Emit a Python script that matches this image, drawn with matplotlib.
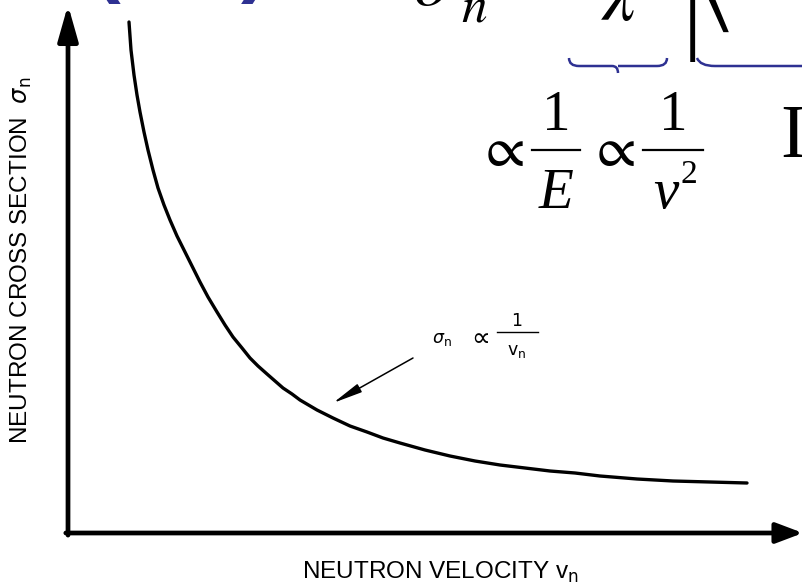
import matplotlib
matplotlib.use("Agg")
import matplotlib.pyplot as plt
from matplotlib.path import Path
from matplotlib.patches import PathPatch
from matplotlib.lines import Line2D

# hand-read points of the 1/v curve (arbitrary units: x axis 0..735, y axis 0..528)
velocity = [61, 63, 66, 69, 72, 76, 80, 85, 90, 96, 102, 109, 117, 125, 132, 140,
            149, 157, 165, 174, 182, 190, 199, 207, 215, 224, 232, 249, 265, 282,
            299, 315, 332, 357, 382, 407, 432, 457, 482, 507, 532, 569, 605, 642,
            679]
cross_section = [511, 483, 458, 438, 421, 401, 383, 363, 345, 328, 313, 297, 281,
                 265, 251, 236, 221, 208, 196, 185, 175, 167, 159, 152, 145, 139,
                 133, 123, 115, 107, 101, 95, 90, 83, 77, 72, 68, 65, 62, 60, 57,
                 54, 52, 51, 50]

# pointer to the curve: tail and tip in data units
arrow_tail = (345, 175)
arrow_tip = (265, 130)

W, H = 803, 585
BLUE = '#2e3192'

fig = plt.figure(figsize=(W / 100, H / 100), dpi=100)
fig.patch.set_facecolor('white')


def px(x, y):
    # pixel position (origin top-left) -> figure fraction
    return x / W, 1 - y / H


ax = fig.add_axes([68 / W, 52 / H, 735 / W, 528 / H])
ax.set_xlim(0, 735)
ax.set_ylim(0, 528)
ax.axis('off')

# axes drawn as arrows
ax.annotate('', xy=(0, 1), xytext=(0, -0.004), xycoords='axes fraction',
            arrowprops=dict(arrowstyle='-|>,head_length=0.6,head_width=0.17',
                            lw=3.4, color='k', mutation_scale=36,
                            shrinkA=0, shrinkB=0))
ax.annotate('', xy=(1, 0), xytext=(-0.003, 0), xycoords='axes fraction',
            arrowprops=dict(arrowstyle='-|>,head_length=0.45,head_width=0.17',
                            lw=3.4, color='k', mutation_scale=36,
                            shrinkA=0, shrinkB=0))

ax.plot(velocity, cross_section, color='k', lw=2.4, solid_capstyle='round',
        solid_joinstyle='round')

ax.annotate('', xy=arrow_tip, xytext=arrow_tail,
            arrowprops=dict(arrowstyle='-|>,head_length=0.9,head_width=0.14',
                            lw=1.1, color='k', mutation_scale=20,
                            shrinkA=0, shrinkB=0))

# sigma_n ∝ 1/v_n label next to the pointer
small = dict(fontsize=12.5, family='DejaVu Sans', math_fontfamily='dejavusans')
fig.text(*px(432, 343), r'$\sigma_\mathrm{n}$', ha='left', va='baseline', **small)
fig.text(*px(478, 337), r'$\propto$', ha='center', va='center', fontsize=19,
         math_fontfamily='dejavusans')
fig.add_artist(Line2D([497 / W, 538 / W], [1 - 332 / H, 1 - 332 / H],
                      transform=fig.transFigure, color='k', lw=1.0))
fig.text(*px(517, 326), '1', ha='center', va='baseline', **small)
fig.text(*px(517, 355), r'v$_\mathrm{n}$', ha='center', va='baseline', **small)

# axis titles
fig.text(*px(21, 260), r'NEUTRON CROSS SECTION  $\sigma_\mathrm{n}$', rotation=90,
         ha='center', va='center', fontsize=17.5, family='Liberation Sans',
         math_fontfamily='dejavusans')
fig.text(*px(440, 572), r'NEUTRON VELOCITY v$_\mathrm{n}$', ha='center',
         va='center', fontsize=17.5, family='Liberation Sans',
         math_fontfamily='dejavusans')

# formula fragments along the top edge
fig.text(*px(93, 4), '(', color=BLUE, fontsize=60, family='Liberation Sans',
         va='bottom', ha='left', weight='bold')
fig.text(*px(241, 4), ')', color=BLUE, fontsize=60, family='Liberation Sans',
         va='bottom', ha='left', weight='bold')
fig.text(*px(413, 5), r'$\sigma$', fontsize=53, math_fontfamily='stix',
         va='baseline', ha='left')
fig.text(*px(461, 22), r'$n$', fontsize=37, math_fontfamily='stix',
         va='baseline', ha='left')
fig.text(*px(618, 20), r'$\lambda$', fontsize=53, math_fontfamily='stix',
         va='baseline', ha='center')
fig.text(*px(693, 62), '|', fontsize=70, family='Liberation Serif',
         va='bottom', ha='center')
fig.text(*px(693, 34), r'$\langle$', fontsize=75, math_fontfamily='stix',
         va='bottom', ha='left')

# proportionality chain under the first brace
FS = 41
for xc in (500, 611):
    fig.text(*px(xc, 150), r'$\propto$', fontsize=FS, math_fontfamily='stix',
             ha='center', va='center')
for x0, x1 in ((532, 580), (643, 703)):
    fig.add_artist(Line2D([x0 / W, x1 / W], [1 - 150 / H, 1 - 150 / H],
                          transform=fig.transFigure, color='k', lw=1.6))
fig.text(*px(556, 130), '1', fontsize=FS, family='Liberation Serif',
         ha='center', va='baseline')
fig.text(*px(673, 130), '1', fontsize=FS, family='Liberation Serif',
         ha='center', va='baseline')
fig.text(*px(556, 208), 'E', fontsize=FS, family='Liberation Serif',
         style='italic', ha='center', va='baseline')
fig.text(*px(666, 208), 'v', fontsize=FS, family='Liberation Serif',
         style='italic', ha='center', va='baseline')
fig.text(*px(681, 183), '2', fontsize=24, family='Liberation Serif',
         ha='left', va='baseline')
fig.text(*px(780, 157), 'I', fontsize=55, family='Liberation Serif',
         va='baseline', ha='left')


def brace(x0, x1, y_top, y_mid, y_tip):
    xm = (x0 + x1) / 2
    verts = [px(x0, y_top), px(x0, y_mid), px(x0 + 10, y_mid),
             px(xm - 6, y_mid), px(xm, y_mid), px(xm, y_tip),
             px(xm, y_mid), px(xm, y_mid), px(xm + 6, y_mid),
             px(x1 - 10, y_mid), px(x1, y_mid), px(x1, y_top)]
    codes = [Path.MOVETO, Path.CURVE3, Path.CURVE3,
             Path.LINETO, Path.CURVE3, Path.CURVE3,
             Path.MOVETO, Path.MOVETO, Path.LINETO,
             Path.LINETO, Path.CURVE3, Path.CURVE3]
    fig.add_artist(PathPatch(Path(verts, codes), transform=fig.transFigure,
                             fill=False, edgecolor=BLUE, lw=1.8))


brace(569, 667, 58, 66, 73)
# second brace runs off the right edge
fig.add_artist(PathPatch(Path([px(697, 58), px(700, 66), px(715, 66), px(805, 66)],
                              [Path.MOVETO, Path.CURVE3, Path.CURVE3, Path.LINETO]),
                         transform=fig.transFigure, fill=False,
                         edgecolor=BLUE, lw=1.8))

fig.savefig('out.png', dpi=100)
